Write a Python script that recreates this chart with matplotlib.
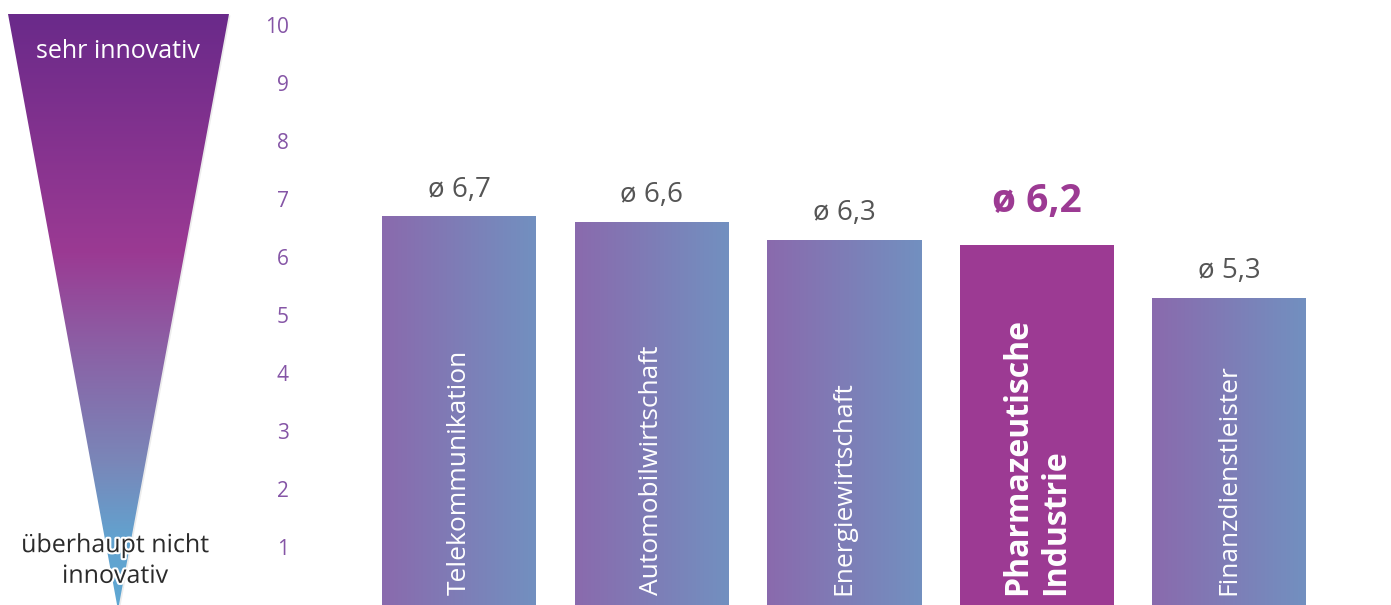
import numpy as np
import matplotlib
matplotlib.use('Agg')
import matplotlib.pyplot as plt
from matplotlib.colors import LinearSegmentedColormap
from matplotlib.patches import Polygon
import matplotlib.patheffects as pe

plt.rcParams['font.family'] = ['Open Sans', 'DejaVu Sans']

categories = ['Telekommunikation', 'Automobilwirtschaft', 'Energiewirtschaft',
              'Pharmazeutische\nIndustrie', 'Finanzdienstleister']
values = [6.7, 6.6, 6.3, 6.2, 5.3]
value_labels = ['ø 6,7', 'ø 6,6', 'ø 6,3', 'ø 6,2', 'ø 5,3']
highlight = 3
y_ticks = [1, 2, 3, 4, 5, 6, 7, 8, 9, 10]

W, H = 1391, 605
fig = plt.figure(figsize=(W / 100, H / 100), dpi=100)

# funnel on the left, drawn in pixel coordinates
fax = fig.add_axes([0, 0, 300 / W, 1])
fax.set_xlim(0, 300)
fax.set_ylim(H, 0)
fax.axis('off')
funnel_cmap = LinearSegmentedColormap.from_list('funnel', [
    (0.0, '#6a2a8a'), (0.40, '#9b3a93'), (0.55, '#8c5ea4'),
    (0.75, '#7a86b8'), (0.88, '#62a2cf'), (1.0, '#5fa8d3')])
tri_pts = [(8, 14), (229, 14), (118, 610)]
shadow = Polygon([(p[0] + 1.5, p[1] + 1.5) for p in tri_pts], closed=True,
                 facecolor='#ececec', edgecolor='none', zorder=1)
fax.add_patch(shadow)
grad = np.linspace(0, 1, 256).reshape(-1, 1)
im = fax.imshow(grad, cmap=funnel_cmap, extent=(8, 229, 610, 14), aspect='auto', zorder=2)
tri = Polygon(tri_pts, closed=True, facecolor='none', edgecolor='none')
fax.add_patch(tri)
im.set_clip_path(tri)
fax.text(118, 52, 'sehr innovativ', color='white', fontsize=18, ha='center', va='center', zorder=3)
fax.text(115, 561, 'überhaupt nicht\ninnovativ', color='#2b2b2b', fontsize=18, ha='center',
         va='center', linespacing=1.3, zorder=3,
         path_effects=[pe.withStroke(linewidth=3, foreground='white')])

# bar chart
ax = fig.add_axes([300 / W, 0, 1 - 300 / W, 1])
step = 192.5
ax.set_xlim(-159 / step, (W - 459) / step)
ax.set_ylim(0, H / 58)
for s in ax.spines.values():
    s.set_visible(False)
ax.set_xticks([])
ax.set_yticks(y_ticks)
ax.tick_params(axis='y', length=0, pad=8, labelsize=15, labelcolor='#8555a6')

x = np.arange(len(categories))
bar_cmap = LinearSegmentedColormap.from_list('bar', ['#8a6aad', '#7290c0'])
colors = ['#9c3a93' if i == highlight else 'none' for i in x]
bars = ax.bar(x, values, width=0.8, color=colors, edgecolor='none', zorder=2)
hgrad = np.linspace(0, 1, 256).reshape(1, -1)
for i, b in enumerate(bars):
    if i == highlight:
        continue
    x0, w, h = b.get_x(), b.get_width(), b.get_height()
    g = ax.imshow(hgrad, cmap=bar_cmap, extent=(x0, x0 + w, 0, h), aspect='auto', zorder=1)
    g.set_clip_path(b)

for i, (v, lab, cat) in enumerate(zip(values, value_labels, categories)):
    if i == highlight:
        ax.text(i, v + 0.42, lab, ha='center', va='bottom', fontsize=28,
                fontweight='bold', color='#9c3a93')
        ax.text(i, 0.17, cat, ha='center', va='bottom', rotation=90, fontsize=23,
                fontweight='bold', color='white', linespacing=1.2,
                multialignment='left')
    else:
        ax.text(i, v + 0.22, lab, ha='center', va='bottom', fontsize=20, color='#555555')
        ax.text(i, 0.17, cat, ha='center', va='bottom', rotation=90, fontsize=19,
                color='white')

fig.savefig('out.png', dpi=100)
